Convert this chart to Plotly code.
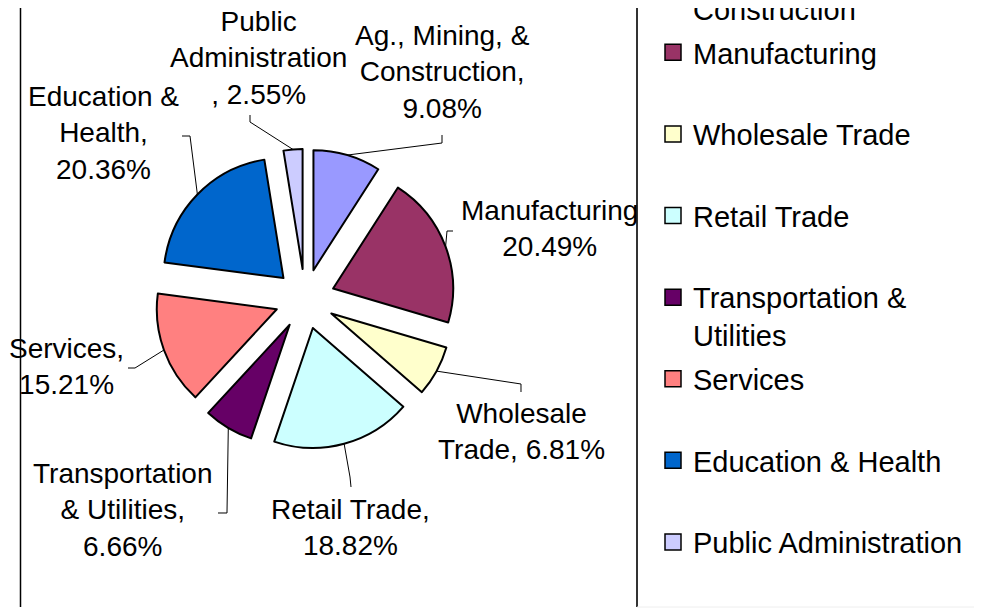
import math
import plotly.graph_objects as go

# ---------------- data ----------------
sectors = ["Ag., Mining, & Construction", "Manufacturing", "Wholesale Trade", "Retail Trade",
           "Transportation & Utilities", "Services", "Education & Health", "Public Administration"]
shares = [9.08, 20.49, 6.81, 18.82, 6.66, 15.21, 20.36, 2.55]
colors = ["#9999FF", "#993366", "#FFFFCC", "#CCFFFF", "#660066", "#FF8080", "#0066CC", "#CCCCFF"]

# text of the data labels (value appended) and of the legend entries
label_prefix = ["Ag., Mining, &<br>Construction,<br>", "Manufacturing<br>", "Wholesale<br>Trade, ",
                "Retail Trade,<br>", "Transportation<br>& Utilities,<br>", "Services,<br>",
                "Education &<br>Health,<br>", "Public<br>Administration<br>, "]
legend_text = ["Ag., Mining, &<br>Construction", "Manufacturing<br> ", "Wholesale Trade<br> ",
               "Retail Trade<br> ", "Transportation &<br>Utilities", "Services<br> ",
               "Education & Health<br> ", "Public Administration<br> "]

# ---------------- layout geometry (screen pixels) ----------------
W, H = 982, 608
PAGE_OFFSET = 8            # the page's default body margin shifts the figure by this much
FONT = "Liberation Sans, Arial, sans-serif"
CX, CY = 305, 299          # pie centre
R_PIE = 120                # pie radius
PULL = 0.25                # explode fraction
label_pos = [(442, 72), (549, 228), (521, 432), (350, 527), (123, 510), (66, 366), (103, 133), (258, 58)]
leader_elbows = [[(442, 143), (442, 135)], [(447, 231), (453, 231)], [(521, 384), (521, 392)],
                 [(350, 477), (351, 487)], [(227, 513), (218, 513)], [(135, 368), (128, 368)],
                 [(190, 136), (182, 136)], [(250, 122), (250, 115)]]


def px(x):
    return (x - PAGE_OFFSET) / W


def py(y):
    return 1 - (y - PAGE_OFFSET) / H


half = R_PIE * (1 + PULL)
fig = go.Figure()
fig.add_trace(go.Pie(
    labels=sectors, values=shares, sort=False, direction="clockwise", rotation=0,
    pull=[PULL] * len(shares),
    marker=dict(colors=colors, line=dict(color="black", width=2)),
    textinfo="none", showlegend=False, hoverinfo="label+percent",
    domain=dict(x=[px(CX - half), px(CX + half)], y=[py(CY + half), py(CY - half)]),
))

# legend entries
for name, col in zip(legend_text, colors):
    fig.add_trace(go.Scatter(
        x=[None], y=[None], mode="markers", name=name, legendgroup=name,
        marker=dict(symbol="square", size=16, color=col, line=dict(color="black", width=1.5)),
        hoverinfo="skip", showlegend=True,
    ))

# data labels and leader lines
total = sum(shares)
cum = 0.0
annotations = []
shapes = []
for i, v in enumerate(shares):
    mid = (cum + v / 2) / total * 2 * math.pi
    cum += v
    sx = CX + half * math.sin(mid)
    sy = CY - half * math.cos(mid)
    pts = [(sx, sy)] + leader_elbows[i]
    path = "M " + " L ".join(f"{px(a):.5f},{py(b):.5f}" for a, b in pts)
    shapes.append(dict(type="path", xref="paper", yref="paper", path=path,
                       line=dict(color="black", width=1)))
    lx, ly = label_pos[i]
    annotations.append(dict(
        x=px(lx), y=py(ly), xref="paper", yref="paper", showarrow=False,
        text=f"{label_prefix[i]}{v:.2f}%", xanchor="center", yanchor="middle", align="center",
        font=dict(size=28, color="black", family=FONT),
    ))

# chart frame lines
shapes.append(dict(type="line", xref="paper", yref="paper", x0=px(20.5), x1=px(20.5), y0=py(607), y1=1.05,
                   line=dict(color="black", width=1.5)))
shapes.append(dict(type="line", xref="paper", yref="paper", x0=px(637), x1=px(637), y0=py(607), y1=1.05,
                   line=dict(color="#333333", width=2)))
shapes.append(dict(type="line", xref="paper", yref="paper", x0=px(637), x1=1.05, y0=py(607), y1=py(607),
                   line=dict(color="#eeeeee", width=1)))

fig.update_layout(
    width=W, height=H,
    margin=dict(l=0, r=0, t=0, b=0, autoexpand=False),
    paper_bgcolor="white", plot_bgcolor="white",
    xaxis=dict(visible=False), yaxis=dict(visible=False),
    font=dict(family=FONT, color="black", size=28),
    showlegend=True,
    legend=dict(x=px(653), xanchor="left", y=py(-54.6), yanchor="top",
                font=dict(size=29, family=FONT, color="black"), valign="top",
                traceorder="grouped", tracegroupgap=3.2, bgcolor="rgba(0,0,0,0)",
                borderwidth=0, maxheight=1000),
    annotations=annotations, shapes=shapes,
)

fig.write_html("out.html")
